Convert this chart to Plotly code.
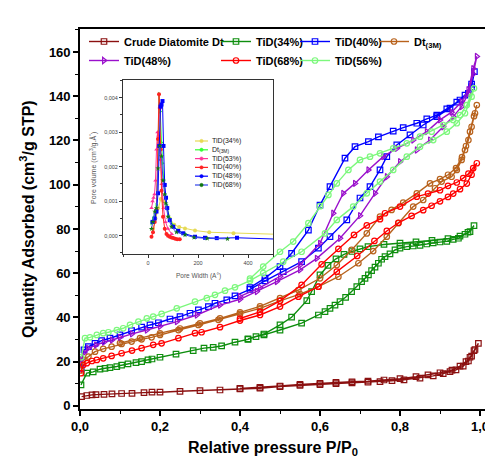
import plotly.graph_objects as go

# ---------------- main isotherm data (P/P0, cm3/g STP) ----------------
crude_p_ads = [0.004,0.017,0.03,0.04,0.06,0.08,0.104,0.13,0.16,0.18,0.2,0.25,0.3,0.35,0.4,0.45,0.5,0.55,0.6,0.64,0.68,0.72,0.75,0.78,0.81,0.85,0.883,0.908,0.925,0.94,0.958,0.971,0.979,0.9875,0.996]
crude_q_ads = [4.2,4.7,5.0,5.1,5.2,5.4,5.6,5.7,6.0,6.2,6.2,6.6,6.9,7.2,7.7,8.0,8.7,9.3,9.6,10.1,10.4,10.7,11.0,11.4,11.8,12.6,13.6,14.6,15.5,16.3,18.0,20.3,22.5,25.5,28.3]
crude_p_des = [0.985,0.975,0.965,0.95,0.93,0.9,0.87,0.84,0.8,0.76,0.72,0.68,0.64,0.6,0.55,0.5,0.45,0.4]
crude_q_des = [25.0,22.0,20.0,18.0,16.2,15.0,14.0,13.2,12.3,11.7,11.2,10.9,10.6,10.2,9.7,9.0,8.4,7.9]

t34_p_ads = [0.0025,0.017,0.033,0.05,0.0625,0.075,0.092,0.104,0.12,0.14,0.154,0.17,0.18,0.2,0.24,0.283,0.31,0.333,0.354,0.3875,0.42,0.44,0.46,0.5,0.554,0.596,0.6125,0.625,0.6375,0.65,0.664,0.679,0.692,0.704,0.7125,0.721,0.729,0.7375,0.746,0.754,0.7625,0.775,0.7875,0.8,0.817,0.833,0.85,0.867,0.883,0.9,0.917,0.933,0.946,0.9625,0.975,0.985]
t34_q_ads = [9.5,14.8,15.4,16.6,17.0,17.3,17.8,18.4,19.0,19.6,20.0,20.8,21.2,22.0,23.4,25.0,26.1,26.5,27.1,28.8,30.1,31.3,32.1,34.3,37.4,41.1,42.6,44.1,45.6,47.1,49.1,51.7,53.9,56.2,57.7,59.2,61.2,62.7,64.5,66.3,67.5,68.7,70.5,71.3,72.0,72.3,72.6,73.2,73.7,74.1,74.4,75.3,75.8,77.6,78.8,81.5]
t34_p_des = [0.97,0.95,0.92,0.88,0.84,0.8,0.76,0.72,0.7,0.68,0.66,0.64,0.62,0.6,0.579,0.567,0.529,0.5,0.46,0.42]
t34_q_des = [78.5,76.8,75.6,74.8,74.2,73.6,73.0,72.0,71.0,69.8,68.5,66.5,63.5,59.2,51.7,47.6,40.1,36.6,32.5,30.3]

t40_p_ads = [0.003,0.01,0.021,0.0375,0.054,0.075,0.1,0.129,0.154,0.175,0.196,0.225,0.25,0.275,0.296,0.321,0.3375,0.367,0.3875,0.425,0.4625,0.508,0.554,0.596,0.625,0.667,0.7,0.725,0.75,0.767,0.792,0.825,0.858,0.892,0.925,0.95,0.971,0.979,0.986]
t40_q_ads = [17.0,25.3,26.8,28.3,29.5,30.6,32.1,34.0,35.6,36.6,37.6,39.3,40.4,41.9,43.4,44.9,46.4,47.9,49.7,52.7,56.5,60.7,65.2,71.3,76.5,84.1,94.0,99.1,106.7,112.7,118.0,122.5,127.0,130.8,134.6,138.3,141.3,144.3,151.1]
t40_p_des = [0.979,0.9625,0.942,0.917,0.892,0.867,0.842,0.808,0.783,0.746,0.721,0.6875,0.6625,0.625,0.6,0.571,0.529,0.5,0.4625,0.425]
t40_q_des = [145.5,140.5,137.3,134.3,131.5,129.8,127.8,125.8,124.2,121.6,119.5,117.2,112.0,99.1,90.8,79.5,69.0,63.0,57.8,53.5]

dt3m_p_ads = [0.003,0.008,0.021,0.0375,0.058,0.079,0.104,0.129,0.154,0.179,0.2,0.246,0.296,0.346,0.4,0.45,0.5,0.55,0.596,0.646,0.696,0.733,0.767,0.796,0.833,0.858,0.8875,0.904,0.929,0.942,0.954,0.9625,0.971,0.979,0.9875,0.992]
dt3m_q_ads = [16.0,20.8,22.3,24.5,25.8,26.8,28.0,29.1,30.1,31.0,32.1,34.3,36.6,38.9,41.6,44.1,47.5,50.5,53.9,58.4,64.5,70.0,76.5,82.6,90.1,93.1,98.4,101.4,103.6,106.7,111.2,115.7,120.2,126.2,132.3,136.0]
dt3m_p_des = [0.985,0.975,0.965,0.955,0.94,0.92,0.9,0.875,0.842,0.808,0.779,0.75,0.717,0.679,0.642,0.6,0.546,0.5,0.45,0.4,0.35,0.3,0.25,0.2,0.15,0.1]
dt3m_q_des = [131.0,124.0,117.5,112.5,107.5,104.5,102.5,100.6,96.1,91.9,88.6,85.6,78.0,70.5,63.7,57.7,52.4,48.7,45.0,42.3,39.6,37.3,35.0,32.8,30.6,28.4]

t48_p_ads = [0.003,0.01,0.02,0.04,0.06,0.08,0.1,0.13,0.167,0.2,0.242,0.292,0.35,0.4,0.442,0.492,0.55,0.592,0.65,0.7,0.7375,0.767,0.8,0.842,0.875,0.908,0.933,0.954,0.971,0.983,0.992]
t48_q_ads = [21.0,24.0,26.0,27.5,28.8,29.8,31.0,32.6,34.3,36.0,38.1,41.1,45.6,48.2,51.7,56.2,61.5,66.7,75.8,86.0,96.1,103.6,110.4,115.7,120.2,126.2,130.8,135.3,141.3,150.0,158.0]
t48_p_des = [0.983,0.971,0.954,0.929,0.9,0.867,0.833,0.792,0.758,0.721,0.6875,0.658,0.633,0.6,0.55,0.5,0.45,0.4]
t48_q_des = [152.5,143.0,137.5,132.8,129.3,124.0,120.2,116.4,112.7,106.7,100.6,96.1,87.1,73.5,63.7,58.5,53.5,49.5]

t68_p_ads = [0.0025,0.008,0.017,0.03,0.042,0.058,0.079,0.104,0.13,0.154,0.183,0.204,0.246,0.2875,0.304,0.35,0.4,0.45,0.5,0.546,0.596,0.642,0.693,0.736,0.767,0.796,0.829,0.858,0.879,0.9,0.92,0.933,0.95,0.967,0.979,0.992]
t68_q_ads = [14.8,18.5,19.3,20.3,20.8,21.5,22.6,23.8,25.0,26.1,27.6,28.3,30.6,32.9,33.3,35.6,38.6,41.1,44.9,49.4,53.9,60.7,67.8,74.6,79.1,82.8,85.9,88.5,90.5,92.5,94.5,96.0,98.0,100.5,104.5,109.7]
t68_p_des = [0.983,0.971,0.958,0.942,0.92,0.9,0.87,0.842,0.8,0.7625,0.75,0.717,0.685,0.646,0.604,0.554,0.5,0.45,0.4]
t68_q_des = [107.5,105.0,103.0,101.0,99.5,97.5,96.0,94.6,90.1,87.1,84.4,81.6,77.3,71.0,64.0,54.7,47.5,42.5,39.5]

t56_p_ads = [0.003,0.0125,0.025,0.042,0.058,0.071,0.092,0.108,0.125,0.146,0.167,0.183,0.204,0.242,0.2875,0.317,0.3375,0.3625,0.3875,0.425,0.458,0.508,0.554,0.6125,0.642,0.683,0.717,0.75,0.783,0.817,0.85,0.883,0.917,0.942,0.9625,0.979,0.985]
t56_q_ads = [22.0,30.6,31.0,32.1,32.9,33.3,34.3,35.1,36.6,38.1,39.6,40.4,41.6,44.1,47.1,48.7,50.2,52.1,53.6,56.6,60.0,65.2,69.7,78.0,84.1,90.1,96.1,101.4,106.7,112.7,117.2,120.2,124.0,127.8,132.3,139.8,143.6]
t56_p_des = [0.967,0.95,0.933,0.908,0.879,0.85,0.817,0.783,0.75,0.725,0.7,0.671,0.642,0.621,0.6,0.571,0.533,0.5,0.458,0.425]
t56_q_des = [136.0,131.5,129.3,127.0,124.0,121.7,118.7,116.4,114.2,112.7,111.2,106.7,100.6,95.4,90.3,82.6,74.3,69.7,63.0,57.5]

x_tick_vals = [0.0, 0.2, 0.4, 0.6, 0.8, 1.0]
y_tick_vals = [0, 20, 40, 60, 80, 100, 120, 140, 160]

# ---------------- inset: pore size distribution (Å, cm3/g.Å) ----------------
in34_w = [20,30,40,51,62,74,87,105,125,148,188,245,342,520]
in34_v = [0.0002,0.0005,0.0008,0.00106,0.001,0.00085,0.0005,0.00032,0.00025,0.00021,0.00015,0.0001,0.00007,0.00004]
in3m_w = [14,20,27,34,40,44,49,54,58,63,68,74,87,100,120,150]
in3m_v = [0.00036,0.0005,0.0006,0.00089,0.0022,0.0041,0.0036,0.0027,0.0021,0.0016,0.0012,0.0009,0.0005,0.0003,0.00015,0.00005]
in53_w = [14,18,22,26,30,34,38,42,46,50,55,62,70,80,95]
in53_v = [0.0008,0.001,0.0011,0.0012,0.0016,0.0025,0.003,0.0029,0.0027,0.0022,0.0015,0.0008,0.0004,0.0002,0.00005]
in40_w = [14,20,27,34,40,44,47,51,54,60,67,74,80,87,94,101,109,117,127]
in40_v = [-0.00003,0.0001,0.0004,0.00076,0.0028,0.0041,0.0037,0.0025,0.0013,0.00055,0.0002,0.00005,0.0,-0.00003,-0.00005,-0.00007,-0.00009,-0.0001,-0.0001]
in48_w = [18,27,34,40,45,50,54,58,62,67,72,77,87,101,121,141,188,228,275,356,520]
in48_v = [0.0004,0.0005,0.0007,0.00123,0.0026,0.00374,0.0038,0.0039,0.0026,0.00147,0.0011,0.0008,0.00045,0.00026,0.00014,0.00007,-0.00003,-0.00006,-0.00007,-0.00006,-0.0001]
in68_w = [14,20,27,34,40,47,54,60,66,71,80,94,114,148,184,237,318]
in68_v = [0.0002,0.0004,0.0007,0.0008,0.00195,0.0026,0.0023,0.0016,0.0012,0.00094,0.00055,0.00026,0.0001,0.00002,-0.00005,-0.00008,-0.00009]

inset_x_ticks = [0, 200, 400]
inset_y_ticks = [0.0, 0.001, 0.002, 0.003, 0.004]

# ---------------- figure ----------------
# page has an 8 px body margin, so the figure is 8 px smaller and coordinates
# below are given in page pixels
OFF = 8
W, H = 493 - OFF, 464 - OFF
PL, PR, PT, PB = 80, 493, 29, 409          # plot area in page pixels
L, T = PL - OFF, PT - OFF
R, B = 0, H - (PB - OFF)
PW, PH = PR - PL, PB - PT

def px(x):
    return (x - PL) / PW

def py(y):
    return (PB - y) / PH

FONT = "Liberation Sans, Arial, sans-serif"

fig = go.Figure()

main = [
    ("Crude Diatomite Dt", crude_p_ads, crude_q_ads, crude_p_des, crude_q_des, "#8B1010", "square-open", "legend"),
    ("TiD(34%)", t34_p_ads, t34_q_ads, t34_p_des, t34_q_des, "#0E8E0E", "square-open", "legend2"),
    ("TiD(40%)", t40_p_ads, t40_q_ads, t40_p_des, t40_q_des, "#0000FF", "square-open", "legend3"),
    ("Dt<sub>(3M)</sub>", dt3m_p_ads, dt3m_q_ads, dt3m_p_des, dt3m_q_des, "#B8621C", "circle-open", "legend4"),
    ("TiD(48%)", t48_p_ads, t48_q_ads, t48_p_des, t48_q_des, "#9A10CC", "triangle-right-open", "legend"),
    ("TiD(68%)", t68_p_ads, t68_q_ads, t68_p_des, t68_q_des, "#FF0000", "circle-open", "legend2"),
    ("TiD(56%)", t56_p_ads, t56_q_ads, t56_p_des, t56_q_des, "#7CF87C", "circle-open", "legend3"),
]
for name, pa, qa, pd, qd, col, sym, lg in main:
    fig.add_trace(go.Scatter(
        x=pa + pd, y=qa + qd, name=name, mode="lines+markers",
        line=dict(color=col, width=1.4),
        marker=dict(symbol=sym, size=5.5, color=col, line=dict(color=col, width=1.2)),
        legend=lg, xaxis="x", yaxis="y"))

inset = [
    ("TiD(34%)", in34_w, in34_v, "#E6DA55", "#E6DA55", "circle"),
    ("Dt<sub>(3M)</sub>", in3m_w, in3m_v, "#33FF33", "#33FF33", "triangle-right"),
    ("TiD(53%)", in53_w, in53_v, "#FF3399", "#FF3399", "triangle-up"),
    ("TiD(40%)", in40_w, in40_v, "#FF2222", "#FF2222", "circle"),
    ("TiD(48%)", in48_w, in48_v, "#0000FF", "#0000FF", "square"),
    ("TiD(68%)", in68_w, in68_v, "#3344EE", "#117711", "star"),
]
for name, w, v, lc, mc, sym in inset:
    fig.add_trace(go.Scatter(
        x=w, y=v, name=name, mode="lines+markers", showlegend=False,
        line=dict(color=lc, width=1),
        marker=dict(symbol=sym, size=4, color=mc, line=dict(width=0)),
        xaxis="x2", yaxis="y2"))

# manual inset legend (compact rows)
shapes = []
annotations = []
for i, (name, w, v, lc, mc, sym) in enumerate(inset):
    yy = 141 + i * 8.8
    shapes.append(dict(type="line", xref="paper", yref="paper",
                       x0=px(195), x1=px(208), y0=py(yy), y1=py(yy),
                       line=dict(color=lc, width=1.2)))
    shapes.append(dict(type="circle", xref="paper", yref="paper",
                       x0=px(199.8), x1=px(203.2), y0=py(yy + 1.7), y1=py(yy - 1.7),
                       fillcolor=mc, line=dict(color=mc, width=0.5)))
    annotations.append(dict(text=name, xref="paper", yref="paper", x=px(210), y=py(yy),
                            xanchor="left", yanchor="middle", showarrow=False,
                            font=dict(family=FONT, size=7, color="#222")))

# axis titles and top title
annotations += [
    dict(text="Quantity Adsorbed (cm<sup>3</sup>/g STP)", xref="paper", yref="paper",
         x=px(27), y=py(219), textangle=-90, showarrow=False, xanchor="center", yanchor="middle",
         font=dict(family=FONT, size=16, color="#000", weight="bold")),
    dict(text="Relative pressure P/P<sub>0</sub>", xref="paper", yref="paper",
         x=px(273), y=py(449), showarrow=False, xanchor="center", yanchor="middle",
         font=dict(family=FONT, size=16, color="#000", weight="bold")),
    dict(text="Pore volume (cm<sup>3</sup>/g.Å<sup>°</sup>)", xref="paper", yref="paper",
         x=px(93), y=py(168), textangle=-90, showarrow=False, xanchor="center", yanchor="middle",
         font=dict(family=FONT, size=7, color="#555")),
    dict(text="Pore Width (A°)", xref="paper", yref="paper",
         x=px(198), y=py(276), showarrow=False, xanchor="center", yanchor="middle",
         font=dict(family=FONT, size=6.5, color="#555")),
    dict(text="X Axis Title", xref="paper", yref="paper",
         x=px(289), y=py(18), showarrow=False, xanchor="center", yanchor="bottom",
         font=dict(family=FONT, size=12, color="#222")),
    dict(text=" ", xref="paper", yref="paper", x=px(289), y=py(-2), showarrow=False,
         xanchor="center", yanchor="top", width=110, height=13.5, bgcolor="white",
         borderpad=0, font=dict(size=6)),
]

legend_common = dict(bgcolor="rgba(0,0,0,0)", borderwidth=0, xanchor="left", yanchor="top",
                     font=dict(family=FONT, size=11, color="#000", weight="bold"),
                     itemwidth=30, tracegroupgap=0)

fig.update_layout(
    width=W, height=H,
    margin=dict(l=L, r=R, t=T, b=B, pad=0),
    paper_bgcolor="white", plot_bgcolor="white",
    separators=", ",
    showlegend=True,
    legend=dict(x=px(84), y=py(27), **legend_common),
    legend2=dict(x=px(216), y=py(27), **legend_common),
    legend3=dict(x=px(295), y=py(27), **legend_common),
    legend4=dict(x=px(374), y=py(27), **legend_common),
    xaxis=dict(range=[0, 1.0325], domain=[0, 1], anchor="y",
               showline=True, linecolor="#000", linewidth=1.6, mirror=True,
               ticks="outside", ticklen=5, tickwidth=1.5, tickcolor="#000",
               tickvals=x_tick_vals, tickformat=".1f",
               minor=dict(dtick=0.1, tick0=0, ticks="outside", ticklen=3, tickwidth=1.2, tickcolor="#000"),
               tickfont=dict(family=FONT, size=13, color="#000", weight="bold"),
               showgrid=False, zeroline=False),
    yaxis=dict(range=[-1.4, 170.4], domain=[0, 1], anchor="x",
               showline=True, linecolor="#000", linewidth=1.6, mirror=False,
               ticks="outside", ticklen=5, tickwidth=1.5, tickcolor="#000",
               tickvals=y_tick_vals,
               minor=dict(dtick=10, tick0=0, ticks="outside", ticklen=3, tickwidth=1.2, tickcolor="#000"),
               tickfont=dict(family=FONT, size=13, color="#000", weight="bold"),
               showgrid=False, zeroline=False),
    xaxis2=dict(range=[-100, 500], domain=[px(123), px(273)], anchor="y2",
                showline=True, linecolor="#333", linewidth=1, mirror=True,
                ticks="outside", ticklen=3, tickwidth=1, tickcolor="#333",
                tickvals=inset_x_ticks,
                minor=dict(dtick=100, tick0=0, ticks="outside", ticklen=2, tickwidth=1, tickcolor="#333"),
                tickfont=dict(family=FONT, size=5.5, color="#444"),
                showgrid=False, zeroline=False),
    yaxis2=dict(range=[-0.00053, 0.00451], domain=[py(254), py(80)], anchor="x2",
                showline=True, linecolor="#333", linewidth=1, mirror=True,
                ticks="outside", ticklen=3, tickwidth=1, tickcolor="#333",
                tickvals=inset_y_ticks, tickformat=".3f",
                minor=dict(dtick=0.0005, tick0=0, ticks="outside", ticklen=2, tickwidth=1, tickcolor="#333"),
                tickfont=dict(family=FONT, size=5.5, color="#444"),
                showgrid=False, zeroline=False),
    shapes=shapes,
    annotations=annotations,
)

fig.write_html("out.html")
